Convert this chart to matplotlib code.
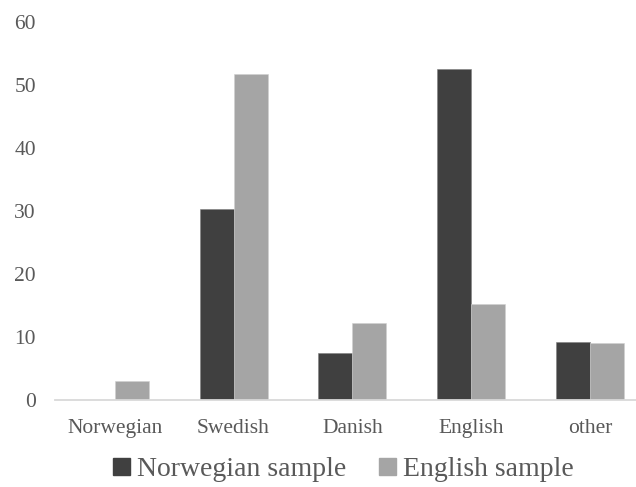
import matplotlib.pyplot as plt
import numpy as np
from matplotlib.patches import Patch

languages = ['Norwegian', 'Swedish', 'Danish', 'English', 'other']
norwegian_sample = [0, 30.4, 7.4, 52.5, 9.2]
english_sample = [3.0, 51.7, 12.2, 15.2, 9.1]
series_names = ['Norwegian sample', 'English sample']
yticks = [0, 10, 20, 30, 40, 50, 60]

dark = '#404040'
light = '#a5a5a5'
text_grey = '#595959'

plt.rcParams['font.family'] = ['Liberation Serif', 'DejaVu Serif']

fig = plt.figure(figsize=(6.36, 4.87), dpi=100)
# axes runs a little past the right edge of the figure
ax = fig.add_axes([0.087, 0.1786, 0.934, 0.776])

x = np.arange(len(languages))
w = 0.286
ax.bar(x - w / 2, norwegian_sample, w, color=dark, edgecolor='#7f7f7f', linewidth=0.4)
ax.bar(x + w / 2, english_sample, w, color=light, edgecolor='#d0d0d0', linewidth=0.4)

ax.set_xlim(-0.5, len(languages) - 0.5)
ax.set_ylim(0, 60)
ax.set_yticks(yticks)
ax.set_xticks(x)
ax.set_xticklabels(languages)
ax.tick_params(axis='both', length=0, labelsize=15.5, colors=text_grey)
ax.tick_params(axis='y', pad=14)
ax.tick_params(axis='x', pad=14)

for side in ['top', 'right', 'left']:
    ax.spines[side].set_visible(False)
ax.spines['bottom'].set_color('#d9d9d9')
ax.spines['bottom'].set_linewidth(1.3)

handles = [Patch(color=dark), Patch(color=light)]
fig.legend(handles, series_names, loc='center', bbox_to_anchor=(0.54, 0.035),
           ncol=2, frameon=False, fontsize=20, labelcolor=text_grey,
           borderpad=0.1, handlelength=0.6, handleheight=0.6,
           handletextpad=0.25, columnspacing=1.2)

fig.savefig('out.png', dpi=100)
